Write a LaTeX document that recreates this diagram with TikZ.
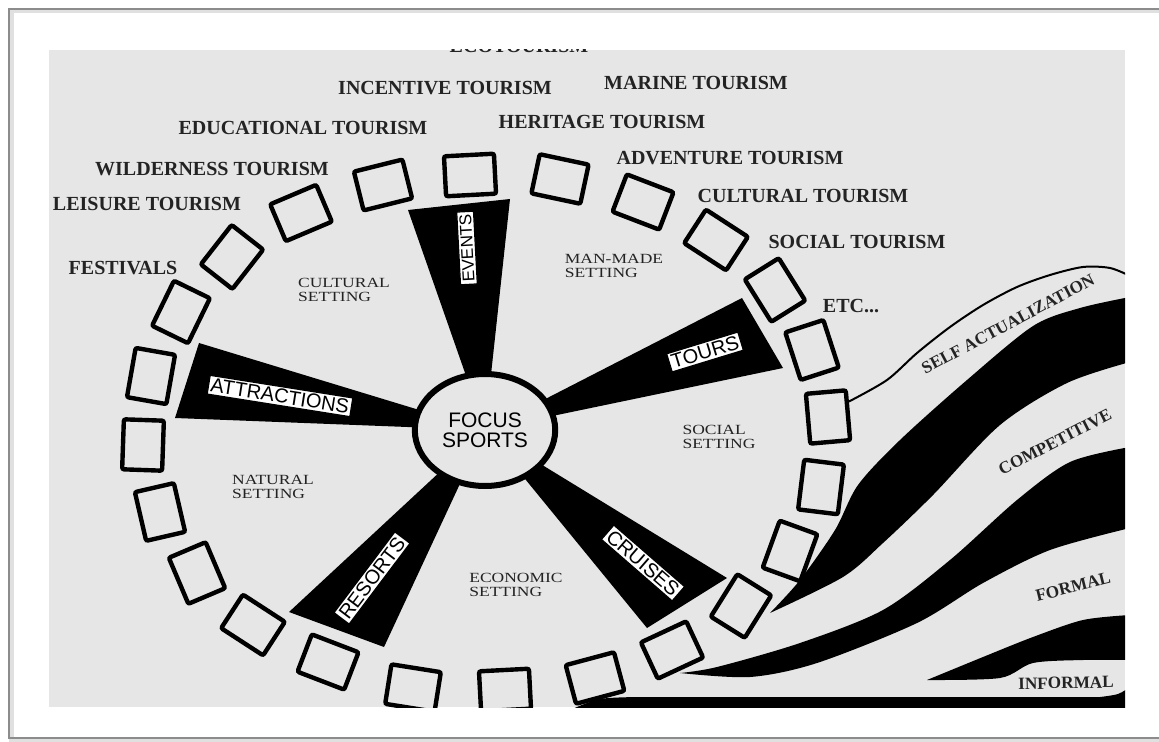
\documentclass[tikz,border=0pt]{standalone}
\usepackage{fontspec}
\setmainfont{Liberation Serif}
\newfontfamily\sansfont{Liberation Sans}
\newfontfamily\widefont{Liberation Serif}[FakeStretch=1.25]
\usepackage{tikz}
\usetikzlibrary{calc, shapes.geometric}
\definecolor{paper}{RGB}{230,230,230}
\definecolor{ink}{RGB}{35,35,35}

\begin{document}
\begin{tikzpicture}[x=0.5pt, y=-0.5pt,
    slot/.style={draw, fill=paper, line width=2.2pt, minimum width=25pt, minimum height=20pt, inner sep=0pt, rounded corners=1pt},
    spoke/.style={fill=black},
    spokelabel/.style={draw, fill=white, line width=0.6pt, inner sep=1.2pt, font=\sansfont\fontsize{10}{12}\selectfont},
    tourlabel/.style={text=ink, font=\bfseries\fontsize{10}{12}\selectfont},
    settinglabel/.style={text=ink, align=left, font=\widefont\fontsize{7}{7.2}\selectfont},
    bandlabel/.style={text=ink, font=\bfseries\fontsize{8.6}{10}\selectfont}]
    \useasboundingbox (0,0) rectangle (1159,742);
    % page frame
    \draw[black!12, line width=2.5pt] (1170,11) -- (11,11) -- (11,740) -- (1170,740);
    \draw[black!45, line width=0.8pt] (1170,9) -- (9,9) -- (9,738) -- (1170,738);

    \begin{scope}
    \clip (49,50) rectangle (1125,707);
    \fill[paper] (49,50) rectangle (1125,707);

    % levels of sport on the right
    \fill[black] plot[smooth] coordinates {(770,613) (800,580) (835,530) (858,485) (900,440) (967,380) (1033,326) (1080,308) (1130,297)}
        -- plot[smooth] coordinates {(1130,362) (1067,383) (1000,425) (933,495) (883,543) (843,577) (770,613)} -- cycle;
    \fill[black] plot[smooth] coordinates {(680,673) (717,667) (800,643) (883,610) (950,560) (1017,500) (1070,462) (1130,447)}
        -- plot[smooth] coordinates {(1130,528) (1050,550) (983,583) (917,623) (817,663) (750,677) (680,673)} -- cycle;
    \fill[black] plot[smooth] coordinates {(927,680) (983,657) (1033,637) (1083,620) (1130,615)}
        -- plot[smooth] coordinates {(1130,660) (1083,660) (1033,663) (1000,678) (927,680)} -- cycle;
    \fill[black] plot[smooth] coordinates {(570,710) (600,699) (640,697)} -- (1100,697)
        -- plot[smooth] coordinates {(1100,697) (1118,694) (1130,687)} -- (1130,710) -- cycle;

    % spokes of the wheel
    \coordinate (hub) at (485,430);
    \foreach \ax/\ay/\bx/\by in {408/210/510/199, 742/298/783/368, 727/578/647/628, 289/612/384/647, 199/343/175/418}
        \fill[spoke] (hub) -- (\ax,\ay) -- (\bx,\by) -- cycle;
    \node[ellipse, draw, fill=paper, line width=3pt, minimum width=66pt, minimum height=56pt, align=center,
        font=\sansfont\fontsize{10.5}{10}\selectfont] (focus) at (hub) {FOCUS\\SPORTS};

    % ring of boxes
    \foreach \x/\y/\r [count=\i] in {470/175/3, 560/179/-12, 643/202/-21, 716/240/-33, 775/290/-58, 812/350/-72,
        828/417/-85, 821/487/-97, 790/551/-110, 741/606/-122, 672/650/-155, 595/678/-165, 505/690/-177,
        413/688/-189, 328/662/-201, 253/625/-213, 197/573/-247, 160/512/-257, 143/445/-272, 151/376/-280,
        181/312/-296, 232/257/-308, 301/213/-337, 383/185/-346}
        \node[slot, rotate=\r] (s\i) at (\x,\y) {};
    \coordinate (selfstart) at ($(s7.north)!0.5!(s7.north west)$);
    \draw[line width=1pt] plot[smooth] coordinates {(selfstart) (887,380) (917,353) (950,327) (983,305) (1017,287) (1050,275) (1083,267) (1110,268) (1130,276)};

    % spoke labels
    \node[spokelabel, rotate=93, font=\sansfont\fontsize{8.5}{10}\selectfont] (events) at (467,248) {EVENTS};
    \node[spokelabel, rotate=17] (tours) at (705,352) {TOURS};
    \node[spokelabel, rotate=-41] (cruises) at (643,563) {CRUISES};
    \node[spokelabel, rotate=53] (resorts) at (372,578) {RESORTS};
    \node[spokelabel, rotate=-9] (attractions) at (280,396) {ATTRACTIONS};

    % settings
    \node[settinglabel] (cultset) at (344,290) {CULTURAL\\SETTING};
    \node[settinglabel] (manset) at (614,266) {MAN-MADE\\SETTING};
    \node[settinglabel] (socset) at (719,437) {SOCIAL\\SETTING};
    \node[settinglabel] (natset) at (273,487) {NATURAL\\SETTING};
    \node[settinglabel] (ecoset) at (516,585) {ECONOMIC\\SETTING};

    % kinds of tourism
    \node[tourlabel] (eco) at (519,46) {ECOTOURISM};
    \node[tourlabel] (incentive) at (445,88) {INCENTIVE TOURISM};
    \node[tourlabel] (marine) at (696,83) {MARINE TOURISM};
    \node[tourlabel] (heritage) at (602,122) {HERITAGE TOURISM};
    \node[tourlabel] (educational) at (303,128) {EDUCATIONAL TOURISM};
    \node[tourlabel] (wilderness) at (212,169) {WILDERNESS TOURISM};
    \node[tourlabel] (leisure) at (147,204) {LEISURE TOURISM};
    \node[tourlabel] (festivals) at (123,268) {FESTIVALS};
    \node[tourlabel] (adventure) at (730,158) {ADVENTURE TOURISM};
    \node[tourlabel] (cultural) at (803,196) {CULTURAL TOURISM};
    \node[tourlabel] (social) at (857,242) {SOCIAL TOURISM};
    \node[tourlabel] (etc) at (851,306) {ETC...};

    % levels
    \node[bandlabel, rotate=28] (selfact) at (1008,324) {SELF ACTUALIZATION};
    \node[bandlabel, rotate=27] (competitive) at (1055,442) {COMPETITIVE};
    \node[bandlabel, rotate=14] (formal) at (1073,587) {FORMAL};
    \node[bandlabel, rotate=1] (informal) at (1066,683) {INFORMAL};
    \end{scope}
\end{tikzpicture}
\end{document}
